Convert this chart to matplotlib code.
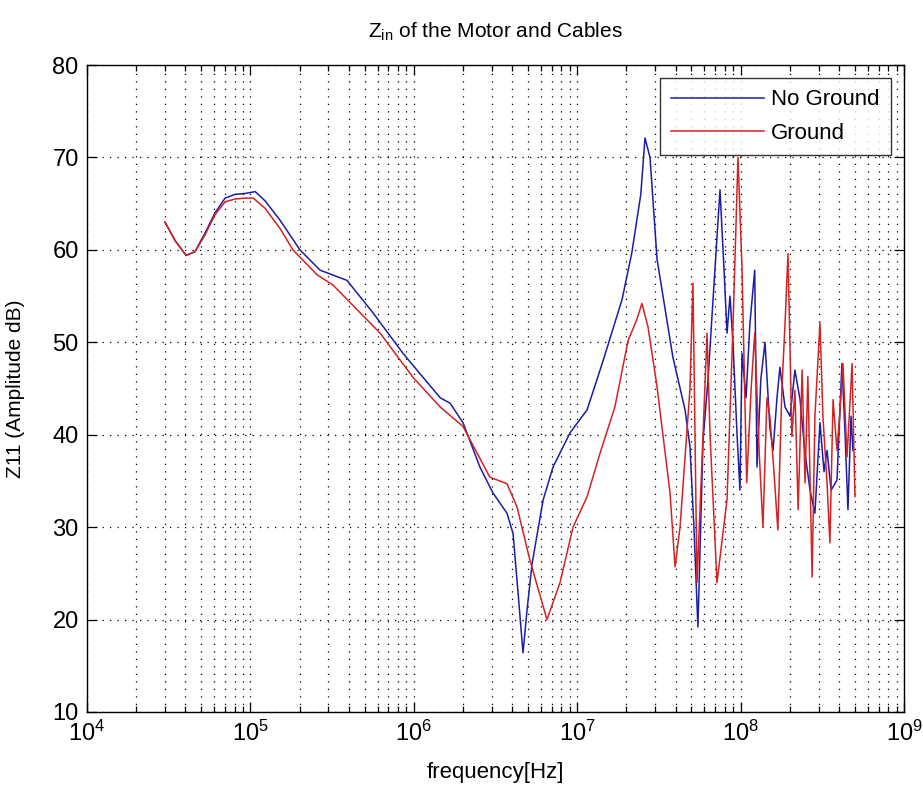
import math
import matplotlib
matplotlib.use("Agg")
import matplotlib.pyplot as plt
from matplotlib.ticker import LogLocator, FixedLocator, NullFormatter, FuncFormatter

base = "Liberation Sans"
plt.rcParams["font.family"] = [base, "DejaVu Sans"]
plt.rcParams["mathtext.fontset"] = "custom"
plt.rcParams["mathtext.rm"] = base
plt.rcParams["mathtext.it"] = base + ":italic"
plt.rcParams["mathtext.bf"] = base + ":bold"

# ---- data ----
freq_no_ground = [
    3.0e4, 3.46e4, 4.04e4, 4.58e4, 5.27e4, 6.07e4, 7.0e4, 8.05e4, 9.27e4, 1.07e5,
    1.23e5, 1.52e5, 2.01e5, 2.67e5, 3.90e5, 5.62e5, 8.59e5, 9.89e5, 1.45e6, 1.67e6,
    2.0e6, 2.54e6, 3.05e6, 3.72e6, 4.05e6, 4.34e6, 4.66e6, 4.93e6, 5.29e6, 6.18e6,
    7.11e6, 9.04e6, 1.15e7, 1.44e7, 1.88e7, 2.16e7, 2.45e7, 2.60e7, 2.79e7, 3.08e7,
    3.85e7, 4.57e7, 4.90e7, 5.18e7, 5.48e7, 5.89e7, 6.32e7, 6.78e7, 7.48e7, 7.91e7,
    8.26e7, 8.61e7, 8.98e7, 9.51e7, 9.91e7, 1.02e8, 1.08e8, 1.14e8, 1.22e8, 1.26e8,
    1.33e8, 1.41e8, 1.51e8, 1.58e8, 1.67e8, 1.74e8, 1.87e8, 2.01e8, 2.15e8, 2.31e8,
    2.48e8, 2.66e8, 2.85e8, 3.06e8, 3.24e8, 3.38e8, 3.58e8, 3.89e8, 4.17e8, 4.36e8,
    4.54e8, 4.74e8, 4.87e8,
]
z_no_ground = [
    63.0, 61.0, 59.4, 59.8, 61.8, 64.0, 65.6, 66.0, 66.1, 66.3,
    65.3, 63.2, 60.0, 57.8, 56.7, 53.2, 48.8, 47.5, 44.0, 43.4,
    41.3, 36.5, 33.7, 31.5, 29.3, 23.0, 16.4, 21.0, 26.0, 32.9,
    36.5, 40.2, 42.7, 48.0, 54.6, 59.7, 66.0, 72.1, 70.0, 59.0,
    48.4, 42.7, 38.7, 30.0, 19.2, 39.4, 46.0, 54.6, 66.5, 58.0,
    51.0, 55.0, 50.0, 40.0, 34.0, 48.8, 44.0, 52.0, 57.8, 36.5,
    46.0, 50.0, 40.8, 38.3, 44.0, 47.3, 43.0, 42.0, 47.0, 43.8,
    38.0, 34.0, 31.5, 41.3, 36.0, 38.3, 34.0, 35.1, 47.7, 40.0,
    31.9, 42.0, 38.3,
]

freq_ground = [
    3.0e4, 3.46e4, 4.04e4, 4.58e4, 5.27e4, 6.07e4, 7.0e4, 8.05e4, 9.27e4, 1.04e5,
    1.23e5, 1.52e5, 1.82e5, 2.56e5, 3.20e5, 4.69e5, 6.21e5, 9.89e5, 1.45e6, 2.0e6,
    2.92e6, 3.72e6, 4.28e6, 5.14e6, 6.53e6, 7.85e6, 9.43e6, 1.15e7, 1.38e7, 1.70e7,
    2.05e7, 2.32e7, 2.49e7, 2.71e7, 2.87e7, 3.08e7, 3.70e7, 3.97e7, 4.26e7, 4.90e7,
    5.11e7, 5.41e7, 5.89e7, 6.23e7, 6.50e7, 7.17e7, 8.26e7, 8.98e7, 9.64e7, 1.02e8,
    1.09e8, 1.16e8, 1.22e8, 1.30e8, 1.37e8, 1.45e8, 1.51e8, 1.60e8, 1.69e8, 1.79e8,
    1.87e8, 1.95e8, 2.06e8, 2.15e8, 2.25e8, 2.38e8, 2.48e8, 2.58e8, 2.74e8, 2.85e8,
    3.06e8, 3.19e8, 3.38e8, 3.52e8, 3.68e8, 3.89e8, 4.06e8, 4.23e8, 4.48e8, 4.67e8,
    4.81e8, 5.01e8,
]
z_ground = [
    63.0, 61.0, 59.4, 59.8, 61.6, 63.8, 65.2, 65.5, 65.6, 65.6,
    64.5, 62.3, 60.0, 57.3, 56.2, 53.2, 51.0, 46.2, 43.0, 40.9,
    35.4, 34.7, 32.2, 26.4, 20.0, 24.0, 30.0, 33.3, 38.0, 43.0,
    50.2, 52.5, 54.2, 51.7, 48.8, 45.2, 33.7, 25.7, 30.0, 45.0,
    56.4, 24.0, 40.0, 51.0, 40.0, 24.0, 33.0, 51.7, 70.0, 58.0,
    34.8, 45.0, 51.0, 38.0, 30.0, 44.0, 42.0, 36.0, 29.7, 45.0,
    52.0, 59.6, 39.8, 44.8, 31.9, 47.0, 34.8, 46.3, 24.6, 42.0,
    52.1, 42.0, 34.8, 28.3, 43.8, 38.3, 42.7, 47.7, 37.6, 43.4,
    47.7, 33.3,
]

series_labels = ["No Ground", "Ground"]
y_ticks = [10, 20, 30, 40, 50, 60, 70, 80]

# ---- figure ----
fig = plt.figure(figsize=(9.23, 7.87), dpi=100)
ax = fig.add_axes([87 / 923, 75 / 787, 817 / 923, 647 / 787])

ax.plot(freq_no_ground, z_no_ground, color="#1c1ca8", lw=1.1, label=series_labels[0])
ax.plot(freq_ground, z_ground, color="#d62222", lw=1.1, label=series_labels[1])

ax.set_xscale("log")
ax.set_xlim(1e4, 1e9)
ax.set_ylim(10, 80)
ax.yaxis.set_major_locator(FixedLocator(y_ticks))
ax.xaxis.set_major_locator(LogLocator(base=10, numticks=10))
ax.xaxis.set_minor_locator(LogLocator(base=10, subs=range(2, 10), numticks=20))
ax.xaxis.set_minor_formatter(NullFormatter())
ax.xaxis.set_major_formatter(
    FuncFormatter(lambda v, p: r"$\mathrm{10^{%d}}$" % round(math.log10(v)))
)

grid_kw = dict(color="black", linestyle=(0, (1, 5)), linewidth=0.9)
ax.grid(True, which="major", axis="both", **grid_kw)
ax.grid(True, which="minor", axis="x", **grid_kw)
ax.set_axisbelow(True)

ax.tick_params(which="both", direction="in", top=True, right=True, width=0.9)
ax.tick_params(which="major", length=7, labelsize=17, pad=6)
ax.tick_params(which="minor", length=4)
for s in ax.spines.values():
    s.set_linewidth(1.0)

ax.set_title(r"$\mathrm{Z_{in}}$ of the Motor and Cables", fontsize=15, pad=20)
ax.set_xlabel("frequency[Hz]", fontsize=16, labelpad=12)
ax.set_ylabel("Z11 (Amplitude dB)", fontsize=15, labelpad=20)

leg = ax.legend(loc="upper right", fontsize=16, frameon=True, fancybox=False,
                edgecolor="black", handlelength=4.2, handletextpad=0.3,
                borderaxespad=0.6, labelspacing=0.55, borderpad=0.5)
leg.get_frame().set_linewidth(1.0)

fig.savefig("out.png", dpi=100, facecolor="white")
